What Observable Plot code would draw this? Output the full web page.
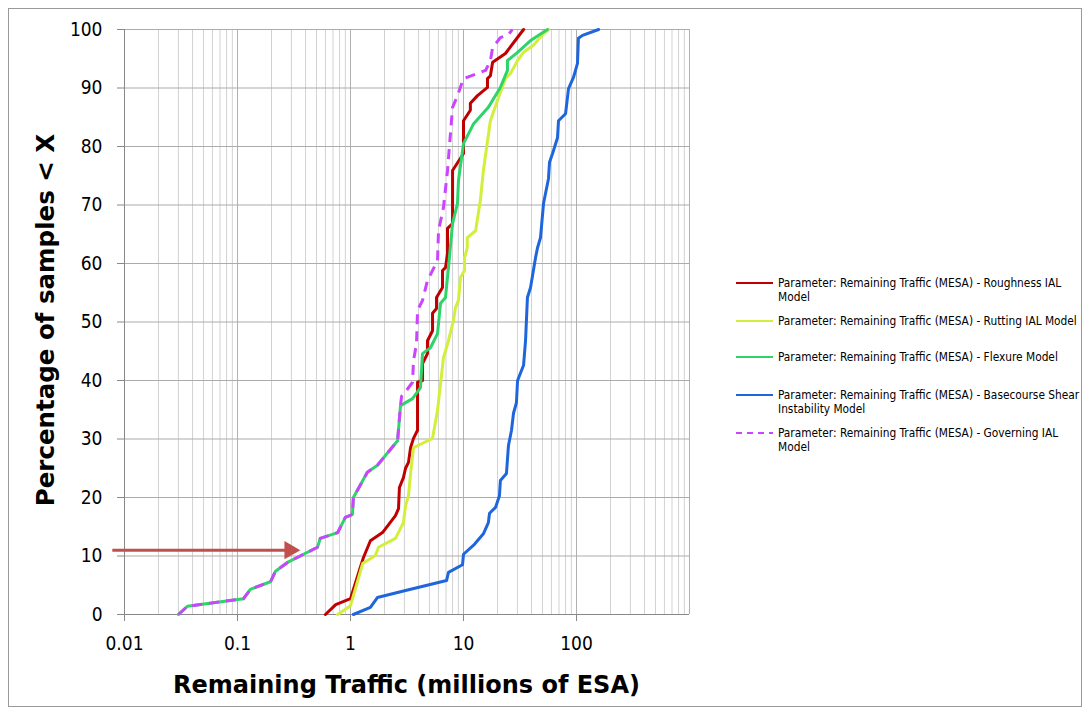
<!DOCTYPE html>
<html><head><meta charset="utf-8">
<script src="https://cdn.jsdelivr.net/npm/d3@7"></script>
<script src="https://cdn.jsdelivr.net/npm/@observablehq/plot@0.6"></script>
<style>
body{margin:0;background:#fff;}
#wrap{position:relative;width:1089px;height:714px;overflow:hidden;font-family:"DejaVu Sans Condensed","DejaVu Sans",sans-serif;}
#border{position:absolute;left:8px;top:8px;width:1072px;height:697px;border:1px solid #9a9a9a;}
#chart{position:absolute;left:0;top:0;}
.title{position:absolute;font-weight:bold;color:#000;white-space:nowrap;font-family:"DejaVu Sans",sans-serif;}
#xt{left:0;width:813px;text-align:center;top:671px;font-size:24px;}
#yt{left:45px;top:320px;font-size:24.5px;transform:translate(-50%,-50%) rotate(-90deg);}
.leg{position:absolute;left:736px;font-size:11.8px;line-height:14px;color:#000;white-space:nowrap;}
.leg svg{position:absolute;left:0;top:0;}
.leg span{position:absolute;left:42px;top:0;}
</style></head>
<body>
<div id="wrap">
  <div id="border"></div>
  <div id="chart"></div>
  <div class="title" id="xt"></div>
  <div class="title" id="yt"></div>
</div>
<script>
// ---- data ----
const xTitle = "Remaining Traffic (millions of ESA)";
const yTitle = "Percentage of samples < X";
const xTickLabels = [0.01, 0.1, 1, 10, 100];
const yTickLabels = [0, 10, 20, 30, 40, 50, 60, 70, 80, 90, 100];

const seriesNames = [
  "Parameter: Remaining Traffic (MESA) - Roughness IAL|Model",
  "Parameter: Remaining Traffic (MESA) - Rutting IAL Model",
  "Parameter: Remaining Traffic (MESA) - Flexure Model",
  "Parameter: Remaining Traffic (MESA) - Basecourse Shear|Instability Model",
  "Parameter: Remaining Traffic (MESA) - Governing IAL|Model"
];
const seriesColors = ["#c00000", "#d4ee3c", "#2ed36a", "#1f66dd", "#cc44ff"];

const roughX = [0.60,0.74,1.0,1.30,1.50,1.92,2.50,2.66,2.71,2.94,3.07,3.26,3.40,3.61,3.92,3.92,4.34,4.34,4.80,4.80,5.32,5.32,5.77,5.77,6.52,6.52,6.93,7.22,7.22,8.0,8.0,8.0,9.4,10.0,10.0,11.5,11.5,13.3,16.3,16.3,17.3,18.1,23.5,34];
const roughY = [0,1.7,2.7,9.7,12.6,14.0,16.9,18.1,21.7,23.4,25.0,26.0,28.5,30.1,31.5,39.7,40.0,42.9,44.6,46.8,48.5,51.5,52.3,54.2,55.9,58.8,59.3,61.7,66.0,66.8,70.4,75.9,78.0,78.8,84.4,86.2,87.4,88.7,90.1,91.6,92.1,94.4,95.9,100];

const rutX = [0.77,1.0,1.28,1.66,1.77,2.50,2.94,3.07,3.26,3.40,3.61,5.32,5.89,6.65,7.36,8.16,8.5,9.03,9.4,10.2,10.2,10.8,10.8,12.8,14.1,15.0,16.0,17.3,20.0,23.5,26.1,30.1,34.0,41.6,51.1,56.5];
const rutY = [0,1.5,8.7,10.1,11.5,13.0,15.7,18.6,20.3,24.1,28.5,30.1,34.9,43.9,46.8,50.3,52.5,53.7,57.6,58.8,60.9,62.7,64.4,65.6,70.8,75.9,79.8,84.4,87.9,91.6,92.5,94.7,96.1,97.3,99.3,100];

const flexX = [0.030,0.036,0.113,0.130,0.196,0.217,0.277,0.51,0.54,0.77,0.90,1.04,1.06,1.41,1.73,2.61,2.77,3.54,4.16,4.34,5.10,5.89,6.26,6.93,7.36,8.0,8.85,9.03,10.0,12.3,16.6,21.2,24.5,24.5,30.1,39.2,55.4];
const flexY = [0,1.4,2.7,4.3,5.6,7.4,8.9,11.5,13.0,14.0,16.6,17.1,20.0,24.3,25.5,29.7,35.7,36.9,38.8,44.6,45.6,48.0,53.2,54.2,59.3,66.8,70.3,74.2,80.5,83.9,86.7,90.1,93.0,94.7,96.1,98.1,100];

const baseX = [1.06,1.50,1.73,3.07,7.08,7.36,9.80,10.0,12.5,15.0,16.6,17.0,19.2,20.8,21.2,24.0,25.0,26.6,27.7,29.4,30.1,34.0,35.4,36.8,39.2,43.4,45.2,48.0,51.1,56.5,57.7,61.4,67.9,69.3,80.0,85.0,94.0,102,104,113,157];
const baseY = [0,1.2,2.9,4.1,5.8,7.2,8.5,10.3,12.0,13.8,15.7,17.3,18.3,20.3,22.9,24.1,28.9,31.5,34.4,36.2,40.0,42.6,46.8,54.2,55.9,61.0,62.7,64.4,70.3,74.5,77.3,78.8,81.5,84.4,85.6,89.9,91.8,94.2,98.5,99.0,100];

const govX = [0.030,0.036,0.113,0.130,0.196,0.217,0.277,0.51,0.54,0.77,0.90,1.04,1.06,1.41,1.73,2.61,2.77,2.83,2.94,3.54,3.61,3.84,3.92,4.34,4.80,5.32,5.89,6.01,6.65,7.22,8.0,8.85,10.0,15.7,17.3,18.1,21.2,25.0,27];
const govY = [0,1.4,2.7,4.3,5.6,7.4,8.9,11.5,13.0,14.0,16.6,17.1,20.0,24.3,25.5,29.7,35.7,37.3,37.6,39.7,43.4,46.3,52.0,53.7,57.1,58.8,60.5,65.6,69.6,75.9,86.7,88.7,91.6,93.0,94.7,96.9,98.6,99.1,100];

// annotation arrow (value range on x, percentage on y)
const arrowFrom = 0.0078, arrowTo = 0.29, arrowPct = 11;

// ---- build ----
const xs = [roughX, rutX, flexX, baseX, govX];
const ys = [roughY, rutY, flexY, baseY, govY];
const series = xs.map((X, i) => X.map((v, j) => ({x: v, y: ys[i][j], s: i})));

const xDomain = [0.01, 1000];
const minorTicks = d3.scaleLog().domain(xDomain).ticks();
const decadeTicks = [0.01, 0.1, 1, 10, 100, 1000];

const font = '"DejaVu Sans Condensed","DejaVu Sans",sans-serif';
const lineMarks = series.map((d, i) => Plot.line(d, {
  x: "x", y: "y", stroke: seriesColors[i], strokeWidth: 3,
  strokeLinejoin: "round", strokeLinecap: i === 4 ? "butt" : "round",
  strokeDasharray: i === 4 ? "10,7" : null
}));

const chart = Plot.plot({
  width: 1089, height: 714,
  marginLeft: 124, marginRight: 400, marginTop: 29, marginBottom: 100,
  style: {fontFamily: font, fontSize: "19px", color: "#000", background: "transparent", overflow: "visible"},
  x: {type: "log", domain: xDomain},
  y: {domain: [0, 100]},
  marks: [
    Plot.gridX(minorTicks, {stroke: "#d2d2d2", strokeOpacity: 1}),
    Plot.gridX(decadeTicks, {stroke: "#b0b0b0", strokeOpacity: 1}),
    Plot.gridY(yTickLabels, {stroke: "#ababab", strokeOpacity: 1}),
    Plot.axisX(xTickLabels, {tickSize: 7, tickPadding: 15, stroke: "#888", tickFormat: d => String(d), label: null, fill: "#000"}),
    Plot.axisY(yTickLabels, {tickSize: 7, tickPadding: 15, stroke: "#888", label: null, fill: "#000"}),
    Plot.ruleY([0], {stroke: "#888"}),
    Plot.ruleX([0.01], {stroke: "#888"}),
    ...lineMarks,
    Plot.link([{a: arrowFrom, b: arrowTo, y: arrowPct}], {x1: "a", x2: "b", y1: "y", y2: "y", stroke: "#c0504d", strokeWidth: 3}),
    Plot.dot([{b: arrowTo, y: arrowPct}], {x: "b", y: "y", symbol: "triangle", r: 6.8, fill: "#c0504d", stroke: null, rotate: 90})
  ]
});
document.getElementById("chart").appendChild(chart);
document.getElementById("xt").textContent = xTitle;
document.getElementById("yt").textContent = yTitle;

// legend (HTML, beside the SVG plot area)
const legTops = [276, 314, 350, 388, 426];
const wrap = document.getElementById("wrap");
seriesNames.forEach((name, i) => {
  const div = document.createElement("div");
  div.className = "leg";
  div.style.top = legTops[i] + "px";
  div.style.height = "30px";
  div.style.width = "350px";
  const dash = i === 4 ? ' stroke-dasharray="6,5"' : '';
  div.innerHTML = `<svg width="40" height="14"><line x1="0" x2="37" y1="7" y2="7" stroke="${seriesColors[i]}" stroke-width="2"${dash}/></svg><span>${name.split("|").join("<br>")}</span>`;
  wrap.appendChild(div);
});
</script>
</body></html>
